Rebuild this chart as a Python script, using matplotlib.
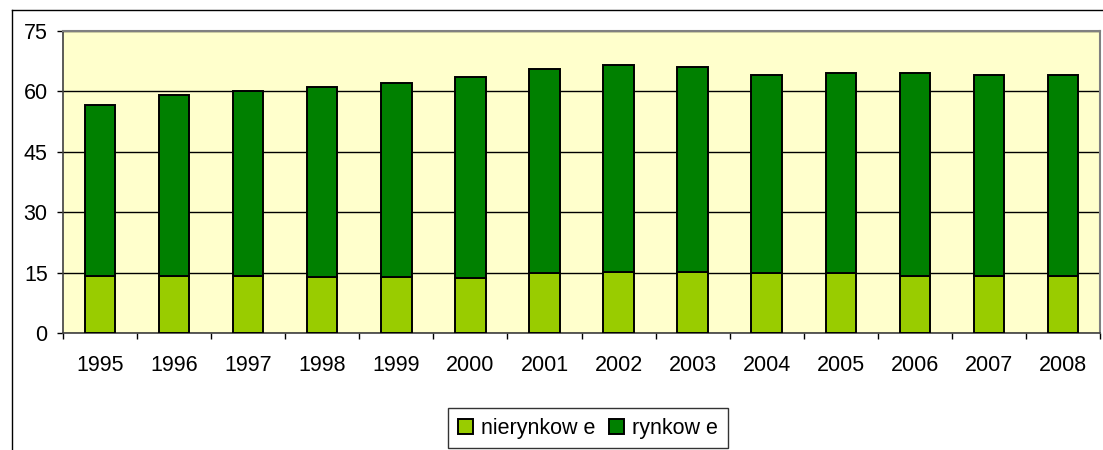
import matplotlib
matplotlib.use('Agg')
import matplotlib.pyplot as plt
import numpy as np
from matplotlib.lines import Line2D

plt.rcParams['font.family'] = ['Liberation Sans', 'DejaVu Sans']

years        = ['1995', '1996', '1997', '1998', '1999', '2000', '2001',
                '2002', '2003', '2004', '2005', '2006', '2007', '2008']
totals       = [56.6, 59.1, 60.1, 61.0, 62.0, 63.6, 65.5,
                66.6, 66.0, 64.1, 64.5, 64.5, 64.0, 64.0]
nierynkowe   = [14.2, 14.2, 14.2, 13.9, 13.9, 13.7, 14.8,
                15.2, 15.2, 14.8, 14.8, 14.2, 14.2, 14.2]
rynkowe      = [t - n for t, n in zip(totals, nierynkowe)]
legend_names = ['nierynkow e', 'rynkow e']

fig = plt.figure(figsize=(11.03, 4.5), dpi=100)
ax = fig.add_axes([63/1103, 1 - 333/450, (1100 - 63)/1103, (333 - 31)/450])
ax.set_facecolor('#FFFFCC')

x = np.arange(len(years))
ax.bar(x, nierynkowe, width=0.41, color='#99CC00', edgecolor='black',
       linewidth=1.4, label=legend_names[0], zorder=3)
ax.bar(x, rynkowe, width=0.41, bottom=nierynkowe, color='#008000',
       edgecolor='black', linewidth=1.4, label=legend_names[1], zorder=3)

ax.set_xlim(-0.5, len(years) - 0.5)
ax.set_ylim(0, 75)
ax.set_yticks([0, 15, 30, 45, 60, 75])
ax.yaxis.grid(True, color='black', linewidth=1.0, zorder=1)

ax.set_xticks(x)
ax.set_xticklabels(years)
ax.set_xticks(np.arange(-0.5, len(years), 1), minor=True)
ax.tick_params(axis='x', which='major', length=0, pad=15.5, labelsize=15.5)
ax.tick_params(axis='x', which='minor', length=4, width=1, direction='out')
ax.tick_params(axis='y', length=4, width=1, direction='out', pad=7, labelsize=15.5)

for side in ['top', 'right']:
    ax.spines[side].set_color('#808080')
    ax.spines[side].set_linewidth(1.5)
ax.spines['left'].set_color('#404040')
ax.spines['bottom'].set_color('#404040')
ax.spines['left'].set_linewidth(1.2)
ax.spines['bottom'].set_linewidth(1.2)

leg = ax.legend(loc='upper center', bbox_to_anchor=(588/1103, 1 - 408/450),
                bbox_transform=fig.transFigure, ncol=2, fontsize=15.5,
                frameon=True, fancybox=False, edgecolor='black',
                handlelength=0.7, handleheight=0.7, handletextpad=0.4,
                columnspacing=0.6, borderpad=0.45, borderaxespad=0)
leg.get_frame().set_linewidth(1.0)

# outer chart frame
fig.add_artist(Line2D([12/1103, 1], [1 - 10/450, 1 - 10/450],
                      transform=fig.transFigure, color='black', linewidth=1))
fig.add_artist(Line2D([12/1103, 12/1103], [0, 1 - 10/450],
                      transform=fig.transFigure, color='black', linewidth=1))

fig.savefig('out.png', dpi=100)
